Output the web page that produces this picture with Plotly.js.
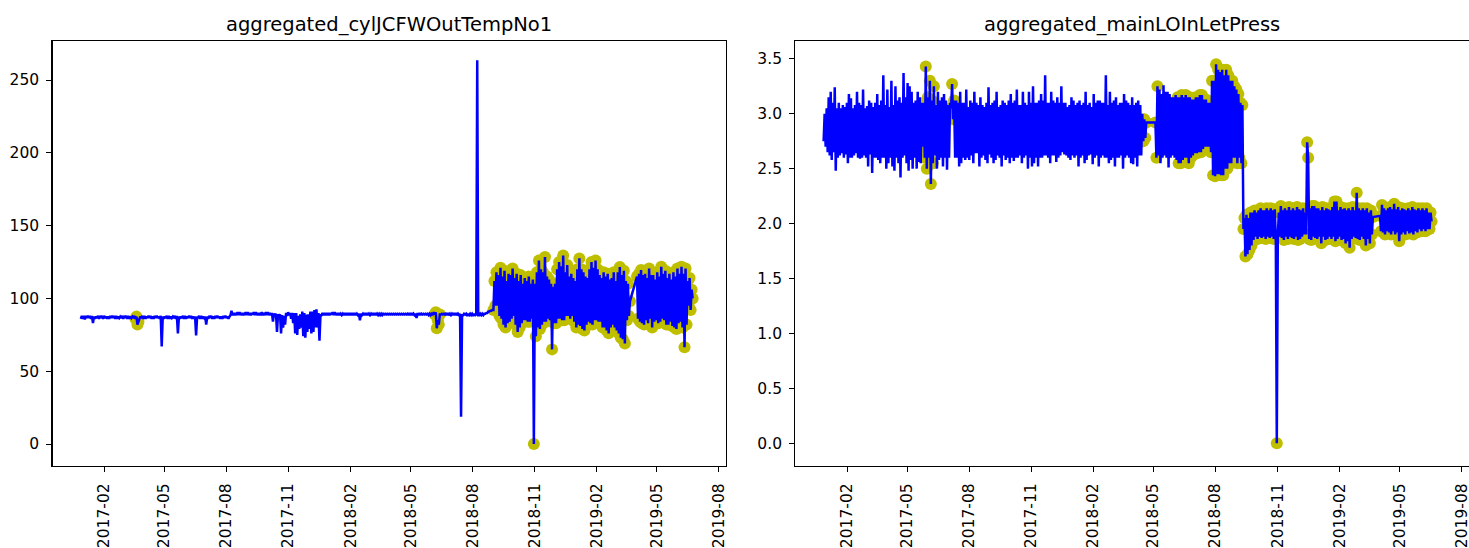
<!DOCTYPE html>
<html>
<head>
<meta charset="utf-8">
<script src="https://cdn.plot.ly/plotly-3.0.1.min.js"></script>
<style>
  html, body { margin: 0; padding: 0; background: #ffffff; }
  #chart { width: 1469px; height: 548px; }
</style>
</head>
<body>
<div id="chart"></div>
<script>
// Aggregated sensor readings, one sample every 36 hours from sampleStart; null = no data.
const sampleStart = '2016-12-28';
const sampleStepHours = 36;

const cylJCFWOutTempNo1 = [
  86,88, 86,88, 85.5,88, 86.5,88, 86.5,88,
  86,88, 83,87.5, 86,87.5, 86.5,88, 86,88,
  86.5,88, 86,88, 86.5,87.5, 86,87.5, 86,88,
  86.5,88, 86.5,88, 86,88, 86,87.5, 86.5,87.5,
  86.5,88, 86,88, 86.5,88, 86,88, 86,87.5,
  86.5,87.5, 86.5,88, 86,87.5, 82,84, 86,87.5,
  86.5,88, 86,88, 86,87.5, 86.5,88, 86.5,88,
  86,87.5, 86,88, 86.5,88, 86.5,87.5, 86,88,
  67,87.5, 86,87.5, 86.5,88, 86,88, 86,87.5,
  86.5,87.5, 86.5,88, 86,88, 76,87.5, 86,87.5,
  86.5,88, 86,88, 86,87.5, 86.5,88, 86.5,88,
  86,87.5, 86,87.5, 74.5,87.5, 86.5,88, 86,88,
  86,87.5, 86.5,87.5, 82,87.5, 86,88, 86.5,88,
  86,87.5, 86,88, 86.5,88, 86.5,87.5, 86,87.5,
  86,88, 86.5,88, 86.5,87.5, 86,87.5, 88.5,91.5,
  88.5,90, 88.5,90, 88.5,90.5, 88.5,90.5, 88.5,90,
  88.5,90, 88.5,90.5, 88.5,90.5, 88.5,90, 88.5,90,
  89,90.5, 88.5,90.5, 88.5,90, 88.5,90, 88.5,90.5,
  88.5,90, 88.5,90.5, 88.5,90.5, 88.5,90, 88.5,90,
  84,89.5, 88.5,89.5, 77,89, 88,89, 76,88.5,
  80,88, 82,90, 88,90.5, 88.5,90, 86,90,
  83,90, 76,90, 75,88, 79,89, 80,91,
  74,90, 73,89, 77,89, 79,91, 76,91,
  77,92, 80,92.5, 80,90, 71,88.5, 88.5,90,
  88.5,90, 88.5,90, 88.5,90, 88.5,90, 89,90.5,
  88.5,90.5, 88.5,90, 88.5,90, 88.5,89.5, 88.5,89.5,
  88.5,90, 88.5,90, 88.5,90, 88.5,90, 88.5,90,
  88.5,90, 88.5,89.5, 88.5,89.5, 85,89.5, 88.5,89.5,
  88.5,90, 88.5,90, 88.5,89.5, 88.5,89.5, 88.5,90,
  88.5,90, 88.5,89.5, 88.5,89.5, 88.5,89.5, 88.5,89.5,
  89,89.5, 89,89.5, 89,89.5, 89,89.5, 89,89.5,
  89,89.5, 89,89.5, 89,89.5, 89,89.5, 89,89.5,
  89,89.5, 89,89.5, 88.5,90, 88.5,90, 88.5,89.5,
  88.5,89.5, 86.5,90, 88.5,90, 88.5,89.5, 89,89.5,
  89,89.5, 89,89.5, 88.5,89.5, 88.5,89.5, 89,90.5,
  89,90.5, 79.5,85, 82,89, 89,89.5, 89,89.5,
  89,90, 88.5,90, 88.5,89.5, 88.5,89.5, 88.5,90,
  88.5,90, 88.5,89.5, 88.5,89.5, 18.8,88.5, 88.5,89.5,
  89,89.5, 88,89, 88.5,89.5, 88.5,89.5, 88.5,89,
  88.5,89, 263.5,88.5, 88.5,89.5, 88.5,89.5, 88.5,89.5,
  89.5,90, 90,91, 91,91.5, 91.5,92, 92,112,
  95,118, 95,116, 88,121, 86,115, 82,119,
  80,112, 83,117, 84,116, 86,120.5, 88,114,
  82,117, 77,112, 80,116, 83,110, 85,114,
  85,112, 84,115, 84,110, 86,113, 0,110,
  74,118, 80,126, 79,120, 82,118, 84,128.5,
  84,115, 86,113, 85,110, 65,108, 83,110,
  83,120, 86,125, 86,122, 85,129.5, 85,118,
  88,123, 88,115, 86,117, 88,114, 84,112,
  80,120, 82,127.5, 81,120, 79,118, 78,115,
  82,114, 84,120, 83,125, 82,121, 85,126,
  85,120, 84,116, 84,114, 80,118, 80,115,
  78,117, 76,113, 80,114, 82,118, 80,112,
  78,118, 76,121.5, 73,116, 72,119, 69,112,
  85,110, 88,98, null,null, null,null, null,null,
  115,86, 117,84, 119.5,83, 116,82, 117,85,
  114,83, 120.5,86, 116,80, 116,84, 113,85,
  118,83, 115,84, 121.8,86, 117,85, 119,82,
  114,82, 117,84, 113,81, 118,80, 115,79,
  120.5,83, 117,84, 121.8,80, 117,66.5, 120.5,82,
  112,95, 114,92, 106,100
];

const mainLOInLetPress = [
  2.75,3.0, 2.7,3.05, 2.65,3.15, 2.62,3.2, 2.58,3.1,
  2.65,3.24, 2.48,3.05, 2.6,3.1, 2.62,3.05, 2.64,3.08,
  2.6,3.06, 2.63,3.1, 2.55,3.18, 2.6,3.14, 2.6,3.05,
  2.62,3.08, 2.64,3.2, 2.6,3.1, 2.59,3.08, 2.6,3.22,
  2.62,3.05, 2.6,3.07, 2.52,3.12, 2.63,3.1, 2.46,3.06,
  2.6,3.1, 2.6,3.18, 2.58,3.08, 2.55,3.12, 2.6,3.35,
  2.6,3.08, 2.5,3.22, 2.55,3.06, 2.6,3.3, 2.52,3.08,
  2.48,3.25, 2.6,3.12, 2.55,3.15, 2.42,3.1, 2.6,3.37,
  2.62,3.15, 2.55,3.28, 2.48,3.25, 2.58,3.2, 2.5,3.1,
  2.6,3.12, 2.5,3.2, 2.56,3.15, 2.55,3.1, 2.7,3.1,
  2.6,3.43, 2.5,3.15, 2.6,3.3, 2.36,3.12, 2.55,3.25,
  2.62,3.08, 2.5,3.2, 2.58,3.12, 2.6,3.15, 2.52,3.18,
  2.6,3.12, 2.49,3.08, 2.6,3.1, 3.05,3.27, 2.95,3.12,
  2.6,3.12, 2.6,3.1, 2.52,3.2, 2.55,3.1, 2.6,3.1,
  2.58,3.22, 2.6,3.06, 2.58,3.12, 2.62,3.1, 2.55,3.2,
  2.64,3.1, 2.64,3.08, 2.52,3.15, 2.6,3.08, 2.62,3.06,
  2.58,3.1, 2.55,3.24, 2.63,3.08, 2.6,3.1, 2.55,3.12,
  2.58,3.2, 2.62,3.06, 2.6,3.08, 2.52,3.12, 2.62,3.1,
  2.58,3.08, 2.6,3.12, 2.55,3.18, 2.6,3.1, 2.57,3.12,
  2.6,3.22, 2.6,3.08, 2.62,3.08, 2.55,3.2, 2.6,3.1,
  2.62,3.08, 2.5,3.2, 2.6,3.1, 2.52,3.25, 2.55,3.1,
  2.6,3.1, 2.52,3.12, 2.6,3.18, 2.6,3.12, 2.62,3.35,
  2.62,3.1, 2.6,3.1, 2.55,3.2, 2.62,3.12, 2.62,3.1,
  2.56,3.15, 2.6,3.1, 2.62,3.25, 2.65,3.1, 2.63,3.1,
  2.62,3.06, 2.6,3.08, 2.58,3.15, 2.62,3.12, 2.6,3.08,
  2.62,3.1, 2.52,3.12, 2.6,3.08, 2.62,3.1, 2.55,3.2,
  2.58,3.08, 2.62,3.1, 2.63,3.06, 2.54,3.18, 2.6,3.1,
  2.62,3.12, 2.52,3.12, 2.6,3.1, 2.62,3.1, 2.6,3.35,
  2.6,3.08, 2.55,3.2, 2.58,3.1, 2.6,3.12, 2.52,3.15,
  2.6,3.08, 2.6,3.1, 2.62,3.1, 2.5,3.18, 2.6,3.12,
  2.62,3.1, 2.6,3.08, 2.55,3.15, 2.54,3.08, 2.6,3.1,
  2.52,3.12, 2.62,3.08, 2.62,3.0, 2.75,2.95, 2.78,2.92,
  null,null, null,null, null,null, null,null, 2.92,2.6,
  3.25,2.62, 3.22,2.55, 3.18,2.6, 3.26,2.62, 3.2,2.6,
  3.2,2.51, 3.18,2.6, 3.15,2.62, 3.15,2.6, 3.17,2.58,
  3.15,2.55, 3.15,2.55, 3.17,2.58, 3.15,2.6, 3.17,2.6,
  3.15,2.55, 3.15,2.6, 3.13,2.62, 3.13,2.64, 3.15,2.64,
  3.15,2.65, 3.17,2.65, 3.17,2.68, 3.13,2.7, 3.13,2.7,
  3.1,2.7, 3.1,2.65, 3.3,2.44, 3.3,2.43, 3.45,2.45,
  3.4,2.45, 3.38,2.44, 3.4,2.44, 3.35,2.5, 3.4,2.5,
  3.35,2.55, 3.3,2.55, 3.3,2.6, 3.25,2.6, 3.22,2.55,
  3.18,2.6, 3.1,2.55, 3.08,1.95, 2.05,1.7, 2.08,1.72,
  2.05,1.76, 2.1,1.8, 2.1,1.85, 2.12,1.88, 2.1,1.86,
  2.12,1.88, 2.14,1.87, 2.12,1.88, 2.12,1.86, 2.14,1.88,
  2.12,1.87, 2.14,1.88, 2.12,1.86, 2.13,1.88, 0,1.88,
  2.1,1.88, 2.16,1.87, 2.12,1.85, 2.14,1.88, 2.12,1.86,
  2.15,1.88, 2.12,1.87, 2.14,1.86, 2.12,1.88, 2.15,1.85,
  2.13,1.86, 2.12,1.88, 2.14,1.9, 2.1,1.9, 2.74,2.6,
  1.86,2.14, 1.85,2.16, 1.88,2.16, 1.87,2.14, 1.86,2.14,
  1.88,2.12, 1.82,2.15, 1.88,2.12, 1.85,2.14, 1.86,2.13,
  1.88,2.12, 1.86,2.15, 1.88,2.2, 1.84,2.2, 1.86,2.12,
  1.88,2.15, 1.85,2.13, 1.86,2.14, 1.82,2.12, 1.84,2.14,
  1.78,2.12, 1.86,2.15, 1.88,2.12, 1.87,2.28, 1.86,2.14,
  1.85,2.12, 1.88,2.14, 1.86,2.12, 1.8,2.14, 1.86,2.1,
  1.82,2.12, 1.9,2.06, null,null, null,null, null,null,
  2.07,1.93, 2.17,1.92, 2.14,1.9, 2.12,1.93, 2.14,1.92,
  2.15,1.9, 2.13,1.93, 2.18,1.9, 2.13,1.92, 2.15,1.84,
  2.12,1.9, 2.14,1.92, 2.13,1.9, 2.12,1.93, 2.14,1.91,
  2.12,1.92, 2.15,1.9, 2.13,1.93, 2.12,1.92, 2.14,1.95,
  2.12,1.93, 2.14,1.95, 2.12,1.93, 2.14,1.95, 2.1,1.95,
  2.1,2.02
];

// Periods flagged as anomalous (inclusive).
const cylAnomalyWindows = [
  ['2017-03-19', '2017-03-24'],
  ['2018-06-06', '2018-06-14'],
  ['2018-09-01', '2019-07-01']
];
const pressAnomalyWindows = [
  ['2017-05-24', '2017-06-10'],
  ['2017-07-05', '2017-07-10'],
  ['2018-04-16', '2018-05-08'],
  ['2018-06-06', '2018-07-20'],
  ['2018-07-24', '2019-07-01']
];

const xTickDates = ['2017-02-01', '2017-05-01', '2017-08-01', '2017-11-01', '2018-02-01',
  '2018-05-01', '2018-08-01', '2018-11-01', '2019-02-01', '2019-05-01', '2019-08-01'];
const xTickLabels = ['2017-02', '2017-05', '2017-08', '2017-11', '2018-02',
  '2018-05', '2018-08', '2018-11', '2019-02', '2019-05', '2019-08'];
const cylTicks = [0, 50, 100, 150, 200, 250];
const pressTicks = [0, 0.5, 1.0, 1.5, 2.0, 2.5, 3.0, 3.5];

const titles = ['aggregated_cylJCFWOutTempNo1', 'aggregated_mainLOInLetPress'];

function sampleDates(n) {
  const [y, m, d] = sampleStart.split('-').map(Number);
  const t0 = Date.UTC(y, m - 1, d);
  const out = [];
  for (let k = 0; k < n; k++) {
    out.push(new Date(t0 + k * sampleStepHours * 3600000).toISOString().slice(0, 16).replace('T', ' '));
  }
  return out;
}

function anomalyPoints(dates, values, windows) {
  const x = [], y = [];
  dates.forEach((dt, i) => {
    if (values[i] === null) return;
    if (windows.some(w => dt >= w[0] && dt <= w[1])) { x.push(dt); y.push(values[i]); }
  });
  return { x, y };
}

const cylDates = sampleDates(cylJCFWOutTempNo1.length);
const pressDates = sampleDates(mainLOInLetPress.length);
const cylAnom = anomalyPoints(cylDates, cylJCFWOutTempNo1, cylAnomalyWindows);
const pressAnom = anomalyPoints(pressDates, mainLOInLetPress, pressAnomalyWindows);

const lineBlue = '#0000ff';
const anomalyYellow = '#bfbf00';
const FONT = 'DejaVu Sans, sans-serif';

const traces = [
  { x: cylAnom.x, y: cylAnom.y, xaxis: 'x', yaxis: 'y', type: 'scatter', mode: 'markers',
    marker: { color: anomalyYellow, size: 12, line: { width: 0 } }, hoverinfo: 'skip' },
  { x: cylDates, y: cylJCFWOutTempNo1, xaxis: 'x', yaxis: 'y', type: 'scatter', mode: 'lines',
    connectgaps: true, line: { color: lineBlue, width: 2.5, simplify: false } },
  { x: pressAnom.x, y: pressAnom.y, xaxis: 'x2', yaxis: 'y2', type: 'scatter', mode: 'markers',
    marker: { color: anomalyYellow, size: 12, line: { width: 0 } }, hoverinfo: 'skip' },
  { x: pressDates, y: mainLOInLetPress, xaxis: 'x2', yaxis: 'y2', type: 'scatter', mode: 'lines',
    connectgaps: true, line: { color: lineBlue, width: 2.5, simplify: false } }
];

const tickFont = { family: FONT, size: 15.5, color: '#000000' };
const commonX = {
  type: 'date', range: ['2016-11-16', '2019-08-12'],
  tickmode: 'array', tickvals: xTickDates, ticktext: xTickLabels, tickangle: -90,
  ticks: 'outside', ticklen: 5, tickwidth: 1, tickcolor: '#000',
  showline: true, linecolor: '#000', linewidth: 1.2,
  showgrid: false, zeroline: false, tickfont: tickFont, ticklabelstandoff: 5,
  ticklabeloverflow: 'allow'
};
const commonY = {
  ticks: 'outside', ticklen: 5, tickwidth: 1, tickcolor: '#000',
  showline: true, linecolor: '#000', linewidth: 1.2,
  showgrid: false, zeroline: false, tickfont: tickFont, ticklabelstandoff: 4
};
const yDomain = [1 - 466 / 548, 1 - 41 / 548];

const layout = {
  width: 1469, height: 548,
  margin: { l: 0, r: 0, t: 0, b: 0, pad: 0 },
  paper_bgcolor: '#ffffff', plot_bgcolor: '#ffffff',
  showlegend: false,
  xaxis: Object.assign({}, commonX, { domain: [52.5 / 1469, 726 / 1469], anchor: 'y', mirror: true }),
  yaxis: Object.assign({}, commonY, { domain: yDomain, anchor: 'x', mirror: true,
    range: [-15.1, 276.8], tickmode: 'array', tickvals: cylTicks, ticktext: cylTicks.map(String) }),
  xaxis2: Object.assign({}, commonX, { domain: [795.3 / 1469, 1], anchor: 'y2', mirror: true }),
  yaxis2: Object.assign({}, commonY, { domain: yDomain, anchor: 'x2', mirror: false,
    range: [-0.207, 3.662], tickmode: 'array', tickvals: pressTicks, ticktext: pressTicks.map(v => v.toFixed(1)) }),
  annotations: titles.map((t, k) => ({
    text: t, showarrow: false,
    xref: k === 0 ? 'x domain' : 'x2 domain', x: 0.5, xanchor: 'center',
    yref: 'paper', y: 1 - 24.5 / 548, yanchor: 'middle',
    font: { family: FONT, size: 19.5, color: '#000000' }
  }))
};

Plotly.newPlot('chart', traces, layout, { staticPlot: true, displayModeBar: false });
</script>
</body>
</html>
